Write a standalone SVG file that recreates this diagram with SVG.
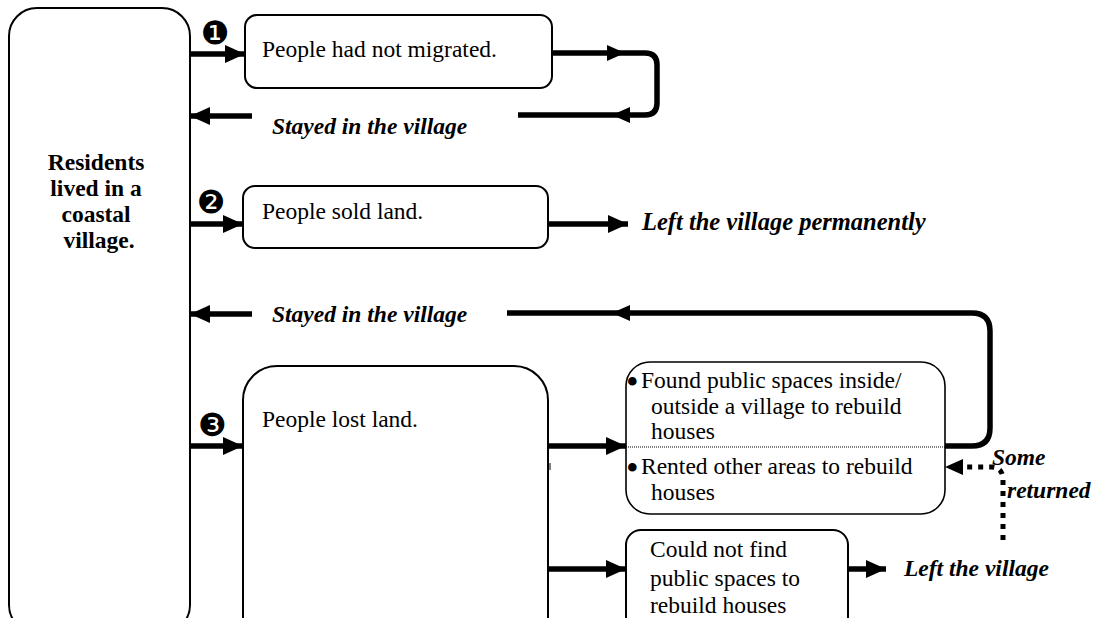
<svg xmlns="http://www.w3.org/2000/svg" width="1098" height="618" viewBox="0 0 1098 618">
  <style>
    .box { fill: #fff; stroke: #000; stroke-width: 2; }
    .thin { fill: #fff; stroke: #000; stroke-width: 1.6; }
    .t { font-family: "Liberation Serif", "Times New Roman", serif; font-size: 23.5px; fill: #000; }
    .tb { font-family: "Liberation Serif", "Times New Roman", serif; font-size: 23.5px; font-weight: bold; fill: #000; }
    .ti { font-family: "Liberation Serif", "Times New Roman", serif; font-size: 23.5px; font-weight: bold; font-style: italic; fill: #000; }
    .bullet { font-family: "Liberation Serif", "Times New Roman", serif; font-size: 36px; fill: #000; }
    .num { font-family: "DejaVu Sans", sans-serif; font-size: 32px; fill: #000; text-anchor: middle; dominant-baseline: central; }
    .wire { fill: none; stroke: #000; stroke-width: 5.5; }
    .dots { fill: none; stroke: #000; stroke-width: 5; stroke-dasharray: 5 6; }
  </style>
  <defs>
    <marker id="head" markerUnits="userSpaceOnUse" viewBox="0 0 20 18" markerWidth="20" markerHeight="18" refX="20" refY="9" orient="auto">
      <path d="M0,0 L20,9 L0,18 Z" fill="#000"/>
    </marker>
    <path id="tri" d="M-18,-8 L0,0 L-18,8 Z" fill="#000"/>
  </defs>

  <rect width="1098" height="618" fill="#fff"/>

  <!-- origin node -->
  <g id="residents">
    <rect class="box" x="9" y="8" width="181" height="625" rx="28"/>
    <text class="tb" text-anchor="middle" x="99">
      <tspan x="99" y="170">Residents</tspan>
      <tspan x="99" y="196">lived in a</tspan>
      <tspan x="99" y="222">coastal</tspan>
      <tspan x="99" y="248">village.</tspan>
    </text>
  </g>

  <!-- case 1 -->
  <g id="not-migrated">
    <rect class="box" x="245" y="15" width="307" height="73" rx="12"/>
    <text class="t" x="262" y="57">People had not migrated.</text>
  </g>

  <!-- case 2 -->
  <g id="sold-land">
    <rect class="box" x="243" y="186" width="305" height="62" rx="12"/>
    <text class="t" x="262" y="219">People sold land.</text>
  </g>

  <!-- case 3 -->
  <g id="lost-land">
    <rect class="box" x="243" y="366" width="305" height="290" rx="34"/>
    <text class="t" x="262" y="427">People lost land.</text>
  </g>

  <g id="rebuilt">
    <rect class="thin" x="626" y="362" width="319" height="152" rx="24"/>
    <line x1="626" y1="447" x2="945" y2="447" stroke="#000" stroke-width="1.2" stroke-dasharray="1 1"/>
    <text class="bullet" x="626" y="394">•</text>
    <text class="t" x="641" y="388">Found public spaces inside/</text>
    <text class="t" x="651" y="414">outside a village to rebuild</text>
    <text class="t" x="651" y="439">houses</text>
    <text class="bullet" x="626" y="480">•</text>
    <text class="t" x="641" y="474">Rented other areas to rebuild</text>
    <text class="t" x="651" y="500">houses</text>
  </g>

  <g id="no-space">
    <rect class="box" x="626" y="530" width="222" height="110" rx="15"/>
    <text class="t" x="650" y="557">Could not find</text>
    <text class="t" x="650" y="586">public spaces to</text>
    <text class="t" x="650" y="613">rebuild houses</text>
  </g>

  <!-- outcome labels -->
  <g id="labels">
    <text class="num" x="215" y="33">❶</text>
    <text class="num" x="211" y="202">❷</text>
    <text class="num" x="212" y="425">❸</text>
    <text class="ti" x="272" y="134">Stayed in the village</text>
    <text class="ti" x="642" y="230" style="font-size:24.5px">Left the village permanently</text>
    <text class="ti" x="272" y="322">Stayed in the village</text>
    <text class="ti" x="992" y="465">Some</text>
    <text class="ti" x="1007" y="498">returned</text>
    <text class="ti" x="904" y="576">Left the village</text>
  </g>

  <!-- connectors -->
  <g id="connectors">
    <line class="wire" x1="190" y1="54" x2="245" y2="54" marker-end="url(#head)"/>
    <path class="wire" d="M552,53 H645 Q657,53 657,65 V103 Q657,115 645,115 H518"/>
    <use href="#tri" transform="translate(625,53)"/>
    <use href="#tri" transform="translate(612,115) rotate(180)"/>
    <line class="wire" x1="252" y1="116" x2="190" y2="116" marker-end="url(#head)"/>

    <line class="wire" x1="190" y1="224" x2="243" y2="224" marker-end="url(#head)"/>
    <line class="wire" x1="548" y1="224" x2="628" y2="224" marker-end="url(#head)"/>

    <line class="wire" x1="252" y1="314" x2="190" y2="314" marker-end="url(#head)"/>
    <path class="wire" d="M507,313 H972 Q990,313 990,331 V428 Q990,446 972,446 H945"/>
    <use href="#tri" transform="translate(612,313) rotate(180)"/>

    <line class="wire" x1="190" y1="446" x2="243" y2="446" marker-end="url(#head)"/>
    <line class="wire" x1="548" y1="446" x2="626" y2="446" marker-end="url(#head)"/>
    <line x1="550" y1="463" x2="550" y2="470" stroke="#000" stroke-width="1"/>
    <line class="wire" x1="548" y1="569" x2="626" y2="569" marker-end="url(#head)"/>
    <line class="wire" x1="848" y1="569" x2="886" y2="569" marker-end="url(#head)"/>

    <path class="dots" d="M1003,540 V480 Q1003,467 991,467 H962"/>
    <use href="#tri" transform="translate(945,467) rotate(180)"/>
  </g>
</svg>
